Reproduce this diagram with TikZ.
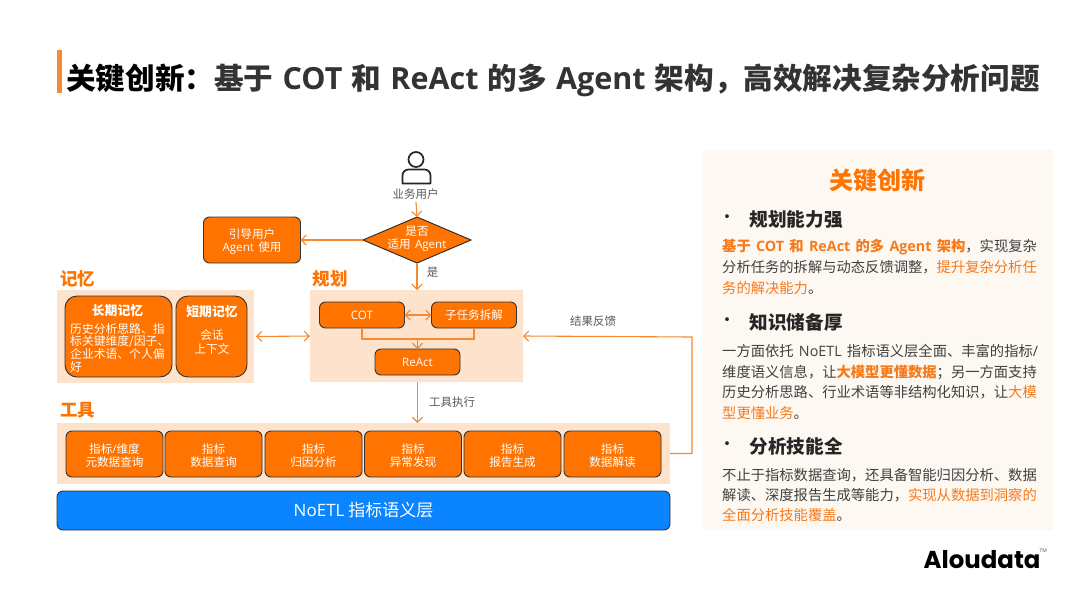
\documentclass[tikz,border=0pt]{standalone}
\usepackage{fontspec}
\setmainfont{Noto Sans CJK SC}
\newfontfamily\latfont{Open Sans}
\newfontfamily\logofont{Poppins}
\usetikzlibrary{arrows.meta, shapes.geometric}

\definecolor{boxorange}{HTML}{FF7300}
\definecolor{linkorange}{HTML}{F58A30}
\definecolor{softpeach}{HTML}{FDE3CB}
\definecolor{panelcream}{HTML}{FEF8F2}
\definecolor{hlorange}{HTML}{F57A1C}
\definecolor{bodygray}{HTML}{404040}
\definecolor{labelgray}{HTML}{595959}
\definecolor{layerblue}{HTML}{0A84FF}

\newcommand{\en}[1]{{\latfont #1}}
\newcommand{\fsz}[1]{\fontsize{#1}{#1}\selectfont}
\newcommand{\hlt}[1]{{\color{hlorange}#1}}
\newcommand{\gap}{\hspace{.37em}}
\newcommand{\titlegap}{\hspace{.31em}}
\newcommand{\titleen}[1]{{\fontsize{30.5}{30.5}\selectfont\latfont #1}}
\newcommand{\dropline}{\rule{0pt}{13.5pt}}

\tikzset{
  linkarrow/.style={draw=linkorange, line width=1.1pt, -{Straight Barb[length=5pt, width=10pt]}},
  linkboth/.style={draw=linkorange, line width=1.1pt, {Straight Barb[length=5pt, width=10pt]}-{Straight Barb[length=5pt, width=10pt]}},
  linkplain/.style={draw=linkorange, line width=1.1pt},
  orbox/.style={draw=black!80, line width=0.9pt, fill=boxorange, rounded corners=6pt, text=white, inner sep=0pt, outer sep=0pt, align=center, font=\fsz{11.6}},
  peachbox/.style={fill=softpeach, inner sep=0pt, outer sep=0pt},
  grouplabel/.style={text=boxorange, font=\fsz{17.5}\bfseries, inner sep=0pt},
  linklabel/.style={text=labelgray, font=\fsz{11.5}, inner sep=0pt},
  whitetext/.style={text=white, font=\fsz{11.6}, inner sep=0pt, align=center},
  bodyline/.style={anchor=base west, text=bodygray, font=\fsz{14.3}, inner sep=0pt},
  headline/.style={anchor=base west, text=black!85, font=\fsz{18.6}\bfseries, inner sep=0pt},
  bulletmark/.style={text=black!85, font=\fsz{18}, inner sep=0pt}
}

\begin{document}
\begin{tikzpicture}[x=1pt, y=-1pt]

  \useasboundingbox (0,0) rectangle (1080,598);
  \fill[white] (0,0) rectangle (1080,598);

  % title
  \fill[linkorange] (57,50) rectangle (61.5,92.5);
  \node[anchor=base west, inner sep=0pt, font=\fsz{29.6}\bfseries, text=black!80] (title) at (66,89)
    {{\color{black}关键创新：}基于\titlegap\titleen{COT}\titlegap 和\titlegap\titleen{ReAct}\titlegap 的多\titlegap\titleen{Agent}\titlegap 架构，高效解决复杂分析问题};

  % background panels
  \node[peachbox, minimum width=197, minimum height=93] (memorypanel) at (155.5,336.5) {};
  \node[peachbox, minimum width=213, minimum height=92] (planpanel) at (416.5,336) {};
  \node[peachbox, minimum width=613, minimum height=61] (toolpanel) at (363.5,453.5) {};
  \fill[panelcream] (703,150) rectangle (1053,530);

  % user
  \draw[black!85, line width=1.7pt] (416,159.5) circle (7.5);
  \draw[black!85, line width=1.7pt, line join=round] (402.5,183.5) -- (402.5,175.5) arc[start angle=180, end angle=270, radius=6] -- (424.5,169.5) arc[start angle=270, end angle=360, radius=6] -- (430.5,183.5) -- cycle;
  \node[linklabel] (user) at (415.5,194.5) {业务用户};

  % decision
  \node[draw=black!85, line width=0.9pt, fill=boxorange, diamond, aspect=2.35, minimum width=108, minimum height=46, inner sep=0pt, outer sep=0pt] (decide) at (417,240) {};
  \node[whitetext] (decidetext) at (417,239) {是否\\[1.5pt]适用\gap\en{Agent}};
  \node[orbox, minimum width=97, minimum height=46] (guide) at (252,240) {\dropline 引导用户\\[1.5pt]\en{Agent}\gap 使用};

  % group labels
  \node[grouplabel] (memorylabel) at (77.5,279) {记忆};
  \node[grouplabel] (planlabel) at (330,279) {规划};
  \node[grouplabel] (toollabel) at (77.5,410) {工具};

  % memory
  \node[orbox, rounded corners=12pt, minimum width=107, minimum height=81] (longmem) at (118.5,336.5) {};
  \node[orbox, rounded corners=12pt, minimum width=71, minimum height=81] (shortmem) at (211.5,336.5) {};
  \node[whitetext, font=\fsz{12.8}\bfseries] (longhead) at (117.5,311) {长期记忆};
  \node[whitetext, font=\fsz{12.8}\bfseries] (shorthead) at (212,312) {短期记忆};
  \node[whitetext, align=left, anchor=north west, font=\fontsize{11.8}{12.7}\selectfont] (longtext) at (70,323)
    {历史分析思路、指\\标关键维度/因子、\\企业术语、个人偏\\好};
  \node[whitetext, font=\fontsize{11.6}{14}\selectfont] (shorttext) at (212,342) {会话\\上下文};

  % planning
  \node[orbox, minimum width=85, minimum height=26] (cot) at (362,315) {\en{COT}};
  \node[orbox, minimum width=85, minimum height=26] (split) at (474,315) {子任务拆解};
  \node[orbox, minimum width=85, minimum height=26] (react) at (417.5,362) {\en{ReAct}};
  \coordinate (joinmid) at (417.5,339);

  % tools
  \foreach \name/\cx/\lineone/\linetwo in {
    metaquery/114.5/指标\en{/}维度/元数据查询,
    dataquery/213.5/指标/数据查询,
    attribution/313.5/指标/归因分析,
    anomaly/413/指标/异常发现,
    report/512.5/指标/报告生成,
    interpret/612.5/指标/数据解读} {
    \node[orbox, minimum width=97, minimum height=46] (\name) at (\cx,454) {\dropline\lineone\\[1.5pt]\linetwo};
  }

  % semantic layer
  \node[draw=black!80, line width=0.9pt, fill=layerblue, rounded corners=6pt, text=white, inner sep=0pt, outer sep=0pt, minimum width=613, minimum height=39, font=\fsz{17}] (layer) at (363.5,510.5) {\en{NoETL} 指标语义层};

  % connectors
  \draw[linkarrow] (user.south) ++(0.5,2) coordinate (userout) -- (decide.north);
  \draw[linkarrow] (decide.west) -- (guide.east);
  \draw[linkarrow] (decide.south) -- (decide.south |- planpanel.north);
  \node[linklabel] (yeslabel) at (432.5,272) {是};
  \draw[linkboth] (memorypanel.east) ++(2,0) coordinate (memout) -- (planpanel.west);
  \draw[linkboth] (cot.east) -- (split.west);
  \draw[linkplain] (cot.south) |- (joinmid) -| (split.south);
  \draw[linkarrow] (joinmid) -- (react.north);
  \draw[linkarrow] (react.south |- planpanel.south) -- (react.south |- toolpanel.north);
  \node[linklabel] (toollink) at (452,402) {工具执行};
  \coordinate (feedbackcorner) at (692,337);
  \draw[linkarrow] (toolpanel.east) -| (feedbackcorner) -- (planpanel.east);
  \node[linklabel] (feedback) at (593,321.5) {结果反馈};

  % right panel
  \node[text=boxorange, font=\fsz{24}\bfseries, inner sep=0pt] (keyhead) at (877,180) {关键创新};

  \node[bulletmark] (bulletone) at (727,219.5) {•};
  \node[headline] (headone) at (749.5,226) {规划能力强};
  \node[bodyline] (lineoa) at (722,251.5) {\hlt{\bfseries 基于\gap\en{COT}\gap 和\gap\en{ReAct}\gap 的多\gap\en{Agent}\gap 架构}，实现复杂};
  \node[bodyline] (lineob) at (722,272.5) {分析任务的拆解与动态反馈调整，\hlt{提升复杂分析任}};
  \node[bodyline] (lineoc) at (722,293) {\hlt{务的解决能力}。};

  \node[bulletmark] (bullettwo) at (727,322.5) {•};
  \node[headline] (headtwo) at (749.5,329) {知识储备厚};
  \node[bodyline] (lineta) at (722,356) {一方面依托\gap\en{NoETL}\gap 指标语义层全面、丰富的指标\en{/}};
  \node[bodyline] (linetb) at (722,377) {维度语义信息，让\hlt{\bfseries 大模型更懂数据}；另一方面支持};
  \node[bodyline] (linetc) at (722,397.5) {历史分析思路、行业术语等非结构化知识，让\hlt{大模}};
  \node[bodyline] (linetd) at (722,418) {\hlt{型更懂业务}。};

  \node[bulletmark] (bulletthree) at (727,446.5) {•};
  \node[headline] (headthree) at (749.5,453) {分析技能全};
  \node[bodyline] (linesa) at (722,480) {不止于指标数据查询，还具备智能归因分析、数据};
  \node[bodyline] (linesb) at (722,500.5) {解读、深度报告生成等能力，\hlt{实现从数据到洞察的}};
  \node[bodyline] (linesc) at (722,520.5) {\hlt{全面分析技能覆盖}。};

  % logo
  \node[anchor=base west, inner sep=0pt, text=black, font=\logofont\bfseries\fsz{24.4}] (logo) at (923.5,568) {Aloudata};
  \node[anchor=west, inner sep=0pt, text=black!70, font=\fsz{5}] (logotm) at (1039.5,550.5) {\en{TM}};

\end{tikzpicture}
\end{document}
